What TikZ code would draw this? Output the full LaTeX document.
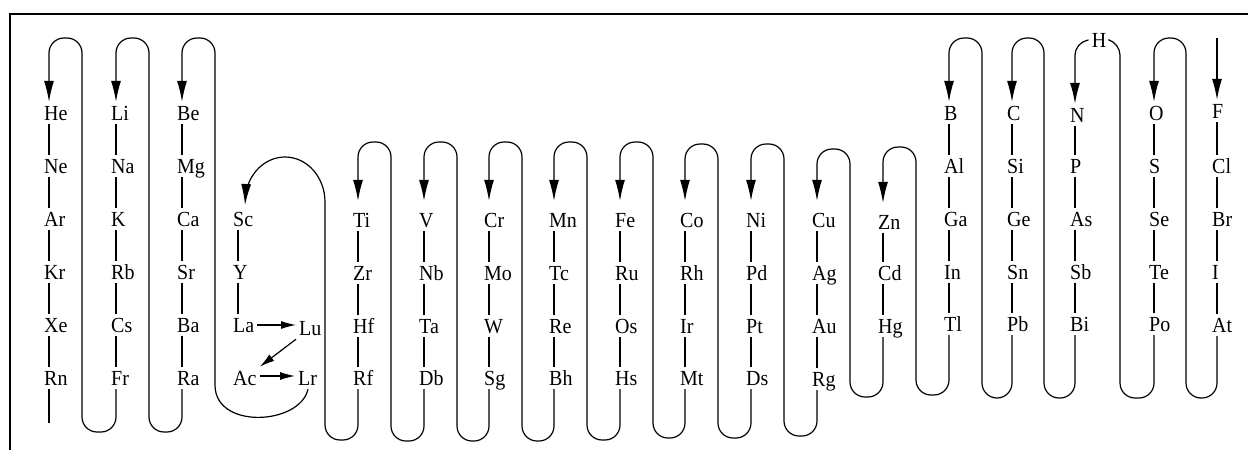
\documentclass[tikz,border=0pt]{standalone}
\usepackage{fontspec}
\setmainfont[FakeStretch=0.93]{Liberation Serif}
\usetikzlibrary{arrows.meta}
\begin{document}
\begin{tikzpicture}[x=1pt,y=-1pt,
  el/.style={anchor=west, inner xsep=3pt, inner ysep=4pt, text height=14pt, text depth=0pt, font=\fontsize{21.5}{22}\selectfont},
  link/.style={line width=1.2pt},
  thread/.style={line width=1.2pt, rounded corners=15pt},
  arr/.style={thread, -{Latex[length=21pt,width=10pt]}},
  sarr/.style={line width=1.2pt, -{Latex[length=15pt,width=8pt]}},
  frame/.style={line width=2pt}]
\useasboundingbox (0,0) rectangle (1248,450);
\draw[frame] (1248,14) -- (10,14) -- (10,450);

% ---- element nodes ----
\foreach \n/\y in {He/113,Ne/166,Ar/219,Kr/272,Xe/325,Rn/378} \node[el] (\n) at (41,\y) {\n};
\foreach \n/\y in {Li/113,Na/166,K/219,Rb/272,Cs/325,Fr/378} \node[el] (\n) at (108,\y) {\n};
\foreach \n/\y in {Be/113,Mg/166,Ca/219,Sr/272,Ba/325,Ra/378} \node[el] (\n) at (174,\y) {\n};
\foreach \n/\y in {Sc/219,Y/272,La/325,Ac/378} \node[el] (\n) at (230,\y) {\n};
\node[el] (Lu) at (296,328) {Lu};
\node[el] (Lr) at (295,378) {Lr};
\foreach \n/\y in {Ti/220,Zr/273,Hf/326,Rf/378} \node[el] (\n) at (350,\y) {\n};
\foreach \n/\y in {V/220,Nb/273,Ta/326,Db/378} \node[el] (\n) at (416,\y) {\n};
\foreach \n/\y in {Cr/220,Mo/273,W/326,Sg/378} \node[el] (\n) at (481,\y) {\n};
\foreach \n/\y in {Mn/220,Tc/273,Re/326,Bh/378} \node[el] (\n) at (546,\y) {\n};
\foreach \n/\y in {Fe/220,Ru/273,Os/326,Hs/378} \node[el] (\n) at (612,\y) {\n};
\foreach \n/\y in {Co/220,Rh/273,Ir/326,Mt/378} \node[el] (\n) at (677,\y) {\n};
\foreach \n/\y in {Ni/220,Pd/273,Pt/326,Ds/378} \node[el] (\n) at (743,\y) {\n};
\foreach \n/\y in {Cu/220,Ag/273,Au/326,Rg/379} \node[el] (\n) at (809,\y) {\n};
\foreach \n/\y in {Zn/222,Cd/273,Hg/326} \node[el] (\n) at (875,\y) {\n};
\foreach \n/\y in {B/113,Al/166,Ga/219,In/272,Tl/324} \node[el] (\n) at (941,\y) {\n};
\foreach \n/\y in {C/113,Si/166,Ge/219,Sn/272,Pb/324} \node[el] (\n) at (1004,\y) {\n};
\foreach \n/\y in {N/115,P/166,As/219,Sb/272,Bi/324} \node[el] (\n) at (1067,\y) {\n};
\foreach \n/\y in {O/113,S/166,Se/219,Te/272,Po/324} \node[el] (\n) at (1146,\y) {\n};
\foreach \n/\y in {F/111,Cl/166,Br/219,I/272,At/325} \node[el] (\n) at (1209,\y) {\n};
\node[el, anchor=center] (H) at (1099,40) {H};

% ---- links inside columns ----
\foreach \a/\b in {He/Ne,Ne/Ar,Ar/Kr,Kr/Xe,Xe/Rn} \draw[link] (\a.south -| 49,0) -- (\b.north -| 49,0);
\foreach \a/\b in {Li/Na,Na/K,K/Rb,Rb/Cs,Cs/Fr} \draw[link] (\a.south -| 116,0) -- (\b.north -| 116,0);
\foreach \a/\b in {Be/Mg,Mg/Ca,Ca/Sr,Sr/Ba,Ba/Ra} \draw[link] (\a.south -| 182,0) -- (\b.north -| 182,0);
\foreach \a/\b in {Sc/Y,Y/La} \draw[link] (\a.south -| 238,0) -- (\b.north -| 238,0);
\foreach \a/\b in {Ti/Zr,Zr/Hf,Hf/Rf} \draw[link] (\a.south -| 358,0) -- (\b.north -| 358,0);
\foreach \a/\b in {V/Nb,Nb/Ta,Ta/Db} \draw[link] (\a.south -| 424,0) -- (\b.north -| 424,0);
\foreach \a/\b in {Cr/Mo,Mo/W,W/Sg} \draw[link] (\a.south -| 489,0) -- (\b.north -| 489,0);
\foreach \a/\b in {Mn/Tc,Tc/Re,Re/Bh} \draw[link] (\a.south -| 554,0) -- (\b.north -| 554,0);
\foreach \a/\b in {Fe/Ru,Ru/Os,Os/Hs} \draw[link] (\a.south -| 620,0) -- (\b.north -| 620,0);
\foreach \a/\b in {Co/Rh,Rh/Ir,Ir/Mt} \draw[link] (\a.south -| 685,0) -- (\b.north -| 685,0);
\foreach \a/\b in {Ni/Pd,Pd/Pt,Pt/Ds} \draw[link] (\a.south -| 751,0) -- (\b.north -| 751,0);
\foreach \a/\b in {Cu/Ag,Ag/Au,Au/Rg} \draw[link] (\a.south -| 817,0) -- (\b.north -| 817,0);
\foreach \a/\b in {Zn/Cd,Cd/Hg} \draw[link] (\a.south -| 883,0) -- (\b.north -| 883,0);
\foreach \a/\b in {B/Al,Al/Ga,Ga/In,In/Tl} \draw[link] (\a.south -| 949,0) -- (\b.north -| 949,0);
\foreach \a/\b in {C/Si,Si/Ge,Ge/Sn,Sn/Pb} \draw[link] (\a.south -| 1012,0) -- (\b.north -| 1012,0);
\foreach \a/\b in {N/P,P/As,As/Sb,Sb/Bi} \draw[link] (\a.south -| 1075,0) -- (\b.north -| 1075,0);
\foreach \a/\b in {O/S,S/Se,Se/Te,Te/Po} \draw[link] (\a.south -| 1154,0) -- (\b.north -| 1154,0);
\foreach \a/\b in {F/Cl,Cl/Br,Br/I,I/At} \draw[link] (\a.south -| 1217,0) -- (\b.north -| 1217,0);

% ---- free ends ----
\coordinate (RnEnd) at (49,423);
\draw[link] (Rn.south -| 49,0) -- (RnEnd);
\coordinate (FStart) at (1217,38);
\draw[arr] (FStart) -- (F.north -| 1217,0);

% ---- serpentine loops ----
\draw[arr] (Fr.south -| 116,0) -- (116,432) -- (82,432) -- (82,38) -- (49,38) -- (He.north -| 49,0);
\draw[arr] (Ra.south -| 182,0) -- (182,432) -- (149,432) -- (149,38) -- (116,38) -- (Li.north -| 116,0);
\draw[line width=1.2pt, -{Latex[length=21pt,width=10pt]}] (Lr.south -| 308,0) .. controls (300,425) and (215,430) .. (215,385)
   [rounded corners=15pt] -- (215,38) -- (182,38) -- (Be.north -| 182,0);
\draw[line width=1.2pt, -{Latex[length=21pt,width=10pt]}] (Rf.south -| 358,0) [rounded corners=15pt] -- (358,440) -- (325,440) -- (325,230) [sharp corners] -- (325,202)
   arc[start angle=0, end angle=-170, x radius=40, y radius=45] -- (245,205);
\draw[arr, shorten >=8pt] (Db.south -| 424,0) -- (424,441) -- (391,441) -- (391,142) -- (358,142) -- (Ti.north -| 358,0);
\draw[arr, shorten >=8pt] (Sg.south -| 489,0) -- (489,441) -- (457,441) -- (457,142) -- (424,142) -- (V.north -| 424,0);
\draw[arr, shorten >=8pt] (Bh.south -| 554,0) -- (554,441) -- (522,441) -- (522,142) -- (489,142) -- (Cr.north -| 489,0);
\draw[arr, shorten >=8pt] (Hs.south -| 620,0) -- (620,440) -- (587,440) -- (587,142) -- (554,142) -- (Mn.north -| 554,0);
\draw[arr, shorten >=8pt] (Mt.south -| 685,0) -- (685,438) -- (653,438) -- (653,142) -- (620,142) -- (Fe.north -| 620,0);
\draw[arr, shorten >=8pt] (Ds.south -| 751,0) -- (751,438) -- (718,438) -- (718,144) -- (685,144) -- (Co.north -| 685,0);
\draw[arr, shorten >=8pt] (Rg.south -| 817,0) -- (817,436) -- (784,436) -- (784,144) -- (751,144) -- (Ni.north -| 751,0);
\draw[arr, shorten >=8pt] (Hg.south -| 883,0) -- (883,397) -- (850,397) -- (850,149) -- (817,149) -- (Cu.north -| 817,0);
\draw[arr, shorten >=8pt] (Tl.south -| 949,0) -- (949,395) -- (916,395) -- (916,147) -- (883,147) -- (Zn.north -| 883,0);
\draw[arr] (Pb.south -| 1012,0) -- (1012,398) -- (982,398) -- (982,38) -- (949,38) -- (B.north -| 949,0);
\draw[arr] (Bi.south -| 1075,0) -- (1075,398) -- (1044,398) -- (1044,38) -- (1012,38) -- (C.north -| 1012,0);
\draw[thread] (Po.south -| 1154,0) -- (1154,398) -- (1120,398) [rounded corners=12pt] -- (1120,43) -- (H.east);
\draw[arr, rounded corners=12pt] (H.west) -- (1075,43) -- (N.north -| 1075,0);
\draw[arr] (At.south -| 1217,0) -- (1217,398) -- (1186,398) -- (1186,38) -- (1154,38) -- (O.north -| 1154,0);

% ---- lanthanide / actinide arrows ----
\draw[sarr] (La.east) -- (La.east -| Lu.west);
\draw[sarr] (Lu.south west) -- (Ac.north east);
\draw[sarr] ([yshift=2pt]Ac.east) -- ([yshift=2pt]Ac.east -| Lr.west);
\end{tikzpicture}
\end{document}
